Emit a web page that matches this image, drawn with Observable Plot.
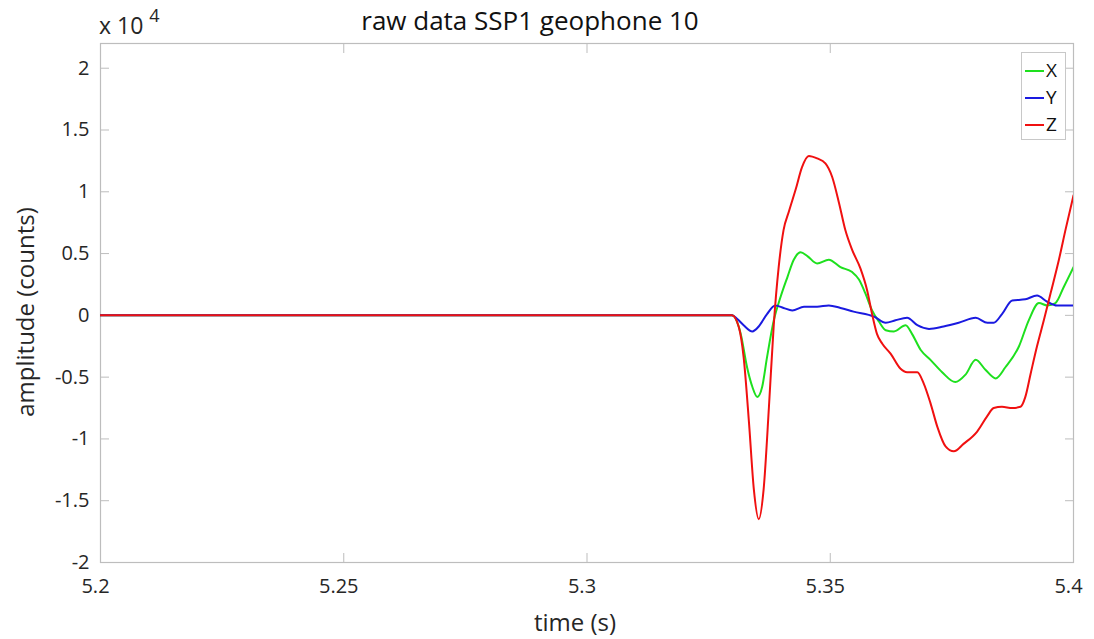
<!DOCTYPE html>
<html>
<head>
<meta charset="utf-8">
<script src="https://cdn.jsdelivr.net/npm/d3@7"></script>
<script src="https://cdn.jsdelivr.net/npm/@observablehq/plot@0.6"></script>
<style>
  html, body { margin: 0; padding: 0; background: #fff; }
  #wrap { position: relative; width: 1094px; height: 639px; font-family: "Open Sans", "Lato", sans-serif; color: #262626; }
  #wrap svg { position: absolute; left: 0; top: 0; }
  .lbl { position: absolute; white-space: nowrap; color: #262626; line-height: 1; }
  #legend { position: absolute; left: 1021px; top: 52px; width: 43px; height: 86px; border: 1px solid #c8c8c8; background: #fff; }
  #legend .row { position: absolute; left: 0; height: 26px; width: 43px; }
  #legend .sw { position: absolute; left: 3px; top: 13px; width: 19px; height: 0; border-top: 2px solid; }
  #legend .tx { position: absolute; left: 24px; top: 0; font-size: 19px; line-height: 26px; color: #111; }
</style>
</head>
<body>
<div id="wrap"></div>
<script>
// ---- data (amplitude in units of 10^4 counts) ----
const seriesNames = ["X", "Y", "Z"];
const seriesColors = ["#1ee01e", "#1a1ae0", "#f01010"];

const timeX = [5.2, 5.3298, 5.3316, 5.3329, 5.3340, 5.3350, 5.3360, 5.3370, 5.3384, 5.3398, 5.3412, 5.3425, 5.3439, 5.3453, 5.3473, 5.3497, 5.3521, 5.3545, 5.3559, 5.3572, 5.3586, 5.3600, 5.3614, 5.3631, 5.3655, 5.3668, 5.3686, 5.3706, 5.3730, 5.3757, 5.3778, 5.3799, 5.3819, 5.3840, 5.3860, 5.3888, 5.3908, 5.3929, 5.3946, 5.3963, 5.3980, 5.4000];
const ampX  = [0, 0, -0.15, -0.42, -0.58, -0.66, -0.58, -0.34, -0.04, 0.15, 0.31, 0.45, 0.51, 0.48, 0.42, 0.45, 0.39, 0.35, 0.29, 0.18, 0.04, -0.05, -0.12, -0.13, -0.08, -0.15, -0.28, -0.36, -0.46, -0.54, -0.48, -0.36, -0.44, -0.51, -0.42, -0.25, -0.04, 0.10, 0.08, 0.10, 0.23, 0.39];

const timeY = [5.2, 5.3298, 5.3309, 5.3322, 5.3340, 5.3353, 5.3370, 5.3387, 5.3404, 5.3422, 5.3446, 5.3473, 5.3497, 5.3521, 5.3548, 5.3590, 5.3614, 5.3634, 5.3658, 5.3679, 5.3703, 5.3733, 5.3764, 5.3799, 5.3823, 5.3836, 5.3853, 5.3874, 5.3901, 5.3925, 5.3946, 5.3966, 5.4000];
const ampY  = [0, 0, -0.03, -0.08, -0.13, -0.09, 0.01, 0.08, 0.06, 0.04, 0.07, 0.07, 0.08, 0.06, 0.03, -0.01, -0.06, -0.04, -0.02, -0.08, -0.11, -0.09, -0.06, -0.02, -0.06, -0.06, 0.01, 0.12, 0.13, 0.16, 0.11, 0.08, 0.08];

const timeZ = [5.2, 5.3298, 5.3312, 5.3322, 5.3333, 5.3343, 5.3353, 5.3363, 5.3374, 5.3384, 5.3394, 5.3404, 5.3415, 5.3429, 5.3442, 5.3456, 5.3473, 5.3490, 5.3504, 5.3518, 5.3531, 5.3545, 5.3562, 5.3576, 5.3586, 5.3596, 5.3607, 5.3624, 5.3644, 5.3658, 5.3679, 5.3692, 5.3706, 5.3720, 5.3737, 5.3754, 5.3774, 5.3802, 5.3822, 5.3836, 5.3853, 5.3874, 5.3891, 5.3901, 5.3912, 5.3925, 5.3939, 5.3953, 5.3970, 5.3984, 5.4000];
const ampZ  = [0, 0, -0.095, -0.34, -0.87, -1.41, -1.65, -1.41, -0.74, -0.07, 0.39, 0.69, 0.84, 1.02, 1.20, 1.29, 1.27, 1.23, 1.12, 0.91, 0.69, 0.53, 0.38, 0.20, 0.01, -0.15, -0.23, -0.31, -0.43, -0.46, -0.46, -0.55, -0.71, -0.90, -1.06, -1.10, -1.04, -0.94, -0.82, -0.75, -0.74, -0.75, -0.74, -0.66, -0.47, -0.25, -0.04, 0.18, 0.45, 0.70, 0.97];

const xTicks = [5.2, 5.25, 5.3, 5.35, 5.4];
const yTicks = [-2, -1.5, -1, -0.5, 0, 0.5, 1, 1.5, 2];
const xDomain = [5.2, 5.4];
const yDomain = [-2, 2.2];

// ---- build rows ----
const toRows = (ts, vs, name) => ts.map((t, i) => ({t, v: vs[i], s: name}));
const rowsX = toRows(timeX, ampX, "X");
const rowsY = toRows(timeY, ampY, "Y");
const rowsZ = toRows(timeZ, ampZ, "Z");

const W = 1094, H = 639;
const axisColor = "#bdbdbd";
const fmt = d => String(d);

const chart = Plot.plot({
  width: W, height: H,
  marginLeft: 100, marginRight: 21, marginTop: 43, marginBottom: 77,
  style: {background: "transparent", fontFamily: "'Open Sans', Lato, sans-serif", color: "#262626"},
  x: {domain: xDomain, label: null},
  y: {domain: yDomain, label: null},
  marks: [
    Plot.frame({stroke: axisColor, strokeWidth: 1.2}),
    Plot.axisX(xTicks, {anchor: "bottom", tickSize: -9, stroke: axisColor, text: null}),
    Plot.axisX(xTicks, {anchor: "top", tickSize: -9, stroke: axisColor, text: null}),
    Plot.axisY(yTicks, {anchor: "left", tickSize: -9, stroke: axisColor, text: null}),
    Plot.axisY(yTicks, {anchor: "right", tickSize: -9, stroke: axisColor, text: null}),
    Plot.axisX(xTicks, {anchor: "bottom", tickSize: 0, tickPadding: 16, fontSize: 20, fill: "#262626", tickFormat: fmt, dx: -5}),
    Plot.axisY(yTicks, {anchor: "left", tickSize: 0, tickPadding: 11, fontSize: 20, fill: "#262626", tickFormat: fmt}),
    Plot.line(rowsX, {x: "t", y: "v", stroke: seriesColors[0], strokeWidth: 2, curve: "monotone-x", clip: true}),
    Plot.line(rowsY, {x: "t", y: "v", stroke: seriesColors[1], strokeWidth: 2, curve: "monotone-x", clip: true}),
    Plot.line(rowsZ, {x: "t", y: "v", stroke: seriesColors[2], strokeWidth: 2, curve: "monotone-x", clip: true})
  ]
});

const wrap = document.getElementById("wrap");
wrap.appendChild(chart);

function addLabel(html, css) {
  const d = document.createElement("div");
  d.className = "lbl";
  d.innerHTML = html;
  Object.assign(d.style, css);
  wrap.appendChild(d);
  return d;
}
// title
addLabel("raw data SSP1 geophone 10", {left: "530px", top: "20px", transform: "translate(-50%,-50%)", fontSize: "26px", color: "#111"});
// exponent
addLabel('x 10<span style="position:relative;top:-12px;font-size:18px;margin-left:6px">4</span>', {left: "99px", top: "14px", fontSize: "23px"});
// x label
addLabel("time (s)", {left: "575px", top: "622px", transform: "translate(-50%,-50%)", fontSize: "24px"});
// y label
addLabel("amplitude (counts)", {left: "25px", top: "312px", transform: "translate(-50%,-50%) rotate(-90deg)", fontSize: "24px"});

// legend
const leg = document.createElement("div");
leg.id = "legend";
seriesNames.forEach((n, i) => {
  const r = document.createElement("div");
  r.className = "row";
  r.style.top = (4 + i * 27) + "px";
  r.innerHTML = `<div class="sw" style="border-color:${seriesColors[i]}"></div><div class="tx">${n}</div>`;
  leg.appendChild(r);
});
wrap.appendChild(leg);
</script>
</body>
</html>
